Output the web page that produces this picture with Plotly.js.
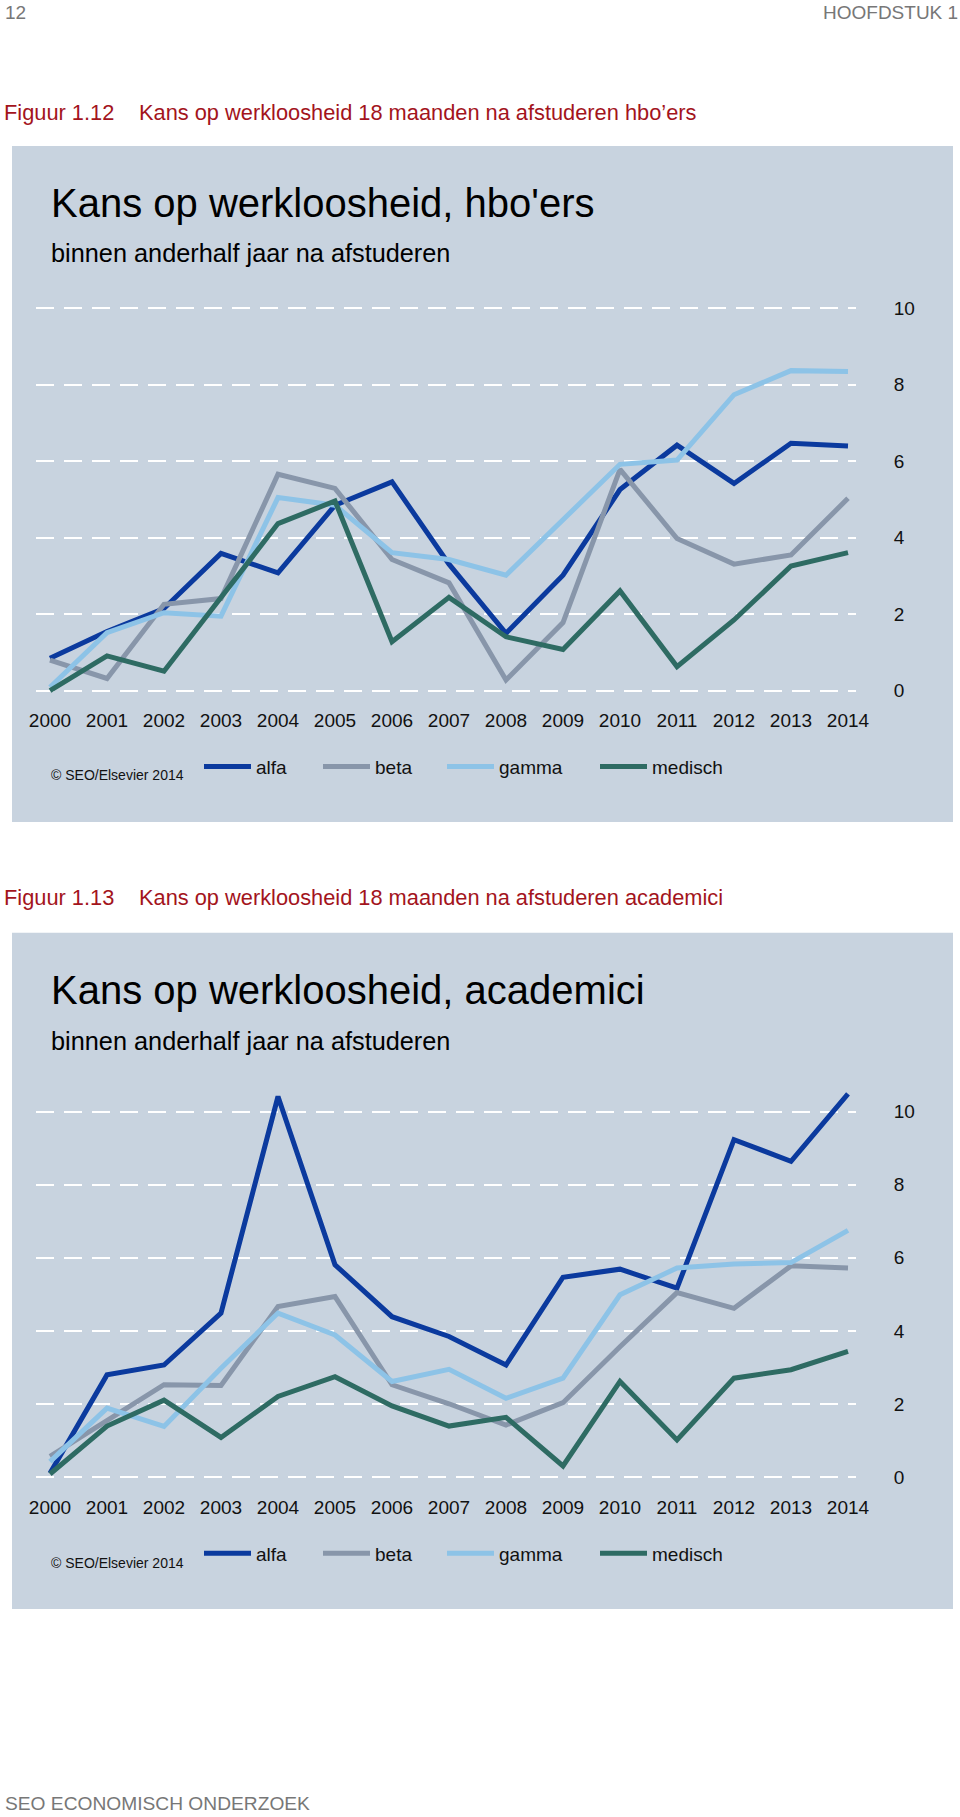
<!DOCTYPE html>
<html>
<head>
<meta charset="utf-8">
<script src="https://cdn.plot.ly/plotly-3.0.1.min.js"></script>
<style>
html,body{margin:0;padding:0;background:#ffffff;}
#chart{width:960px;height:1817px;}
</style>
</head>
<body>
<div id="chart"></div>
<script>
// ---------- data ----------
const years = [2000, 2001, 2002, 2003, 2004, 2005, 2006, 2007, 2008, 2009, 2010, 2011, 2012, 2013, 2014];
const yearLabels = ['2000','2001','2002','2003','2004','2005','2006','2007','2008','2009','2010','2011','2012','2013','2014'];
const yTickValues = [0, 2, 4, 6, 8, 10];
const yTickLabels = ['0','2','4','6','8','10'];
const seriesNames = ['alfa', 'beta', 'gamma', 'medisch'];

// Figuur 1.12 - hbo'ers
const hboAlfa    = [0.85, 1.55, 2.15, 3.59, 3.08, 4.85, 5.46, 3.31, 1.50, 3.02, 5.26, 6.42, 5.42, 6.47, 6.40];
const hboBeta    = [0.80, 0.32, 2.26, 2.41, 5.66, 5.29, 3.43, 2.82, 0.28, 1.78, 5.79, 3.98, 3.31, 3.55, 5.03];
const hboGamma   = [0.09, 1.52, 2.04, 1.95, 5.05, 4.85, 3.61, 3.43, 3.02, 4.46, 5.92, 6.03, 7.74, 8.37, 8.35];
const hboMedisch = [0.00, 0.91, 0.51, 2.46, 4.37, 4.96, 1.28, 2.44, 1.41, 1.08, 2.61, 0.63, 1.85, 3.26, 3.61];

// Figuur 1.13 - academici
const acaAlfa    = [0.11, 2.80, 3.07, 4.49, 10.41, 5.81, 4.39, 3.85, 3.07, 5.47, 5.69, 5.17, 9.23, 8.64, 10.48];
const acaBeta    = [0.57, 1.57, 2.53, 2.51, 4.67, 4.94, 2.53, 2.01, 1.43, 2.04, 3.57, 5.05, 4.62, 5.78, 5.72];
const acaGamma   = [0.43, 1.89, 1.39, 2.98, 4.49, 3.89, 2.62, 2.95, 2.16, 2.71, 4.99, 5.72, 5.83, 5.87, 6.75];
const acaMedisch = [0.09, 1.40, 2.11, 1.09, 2.21, 2.75, 1.95, 1.40, 1.64, 0.31, 2.62, 1.02, 2.71, 2.94, 3.44];

// ---------- styling ----------
const W = 960, H = 1817;
const FONT = 'Liberation Sans, Arial, Helvetica, sans-serif';
const colors = ['#0b3a9e', '#8896aa', '#8dc3e7', '#2e6b63'];
const panelColor = '#c8d3df';
const red = '#a3141c';
const headGrey = '#777777';
const px = v => v / W;
const py = v => 1 - v / H;

const hboSeries = [hboAlfa, hboBeta, hboGamma, hboMedisch];
const acaSeries = [acaAlfa, acaBeta, acaGamma, acaMedisch];

// panel geometry (page pixels)
const panels = [
  {top: 146, bottom: 822, zero: 690.7, unit: 38.24},
  {top: 932.7, bottom: 1609, zero: 1477.3, unit: 36.58}
];
const legendXs = [199, 318, 442, 595];

const traces = [];
const legends = {};
[hboSeries, acaSeries].forEach((set, p) => {
  set.forEach((vals, i) => {
    const lgIndex = p * 4 + i + 1;
    const lgName = lgIndex === 1 ? 'legend' : 'legend' + lgIndex;
    traces.push({
      x: years, y: vals, name: seriesNames[i], type: 'scatter', mode: 'lines',
      xaxis: p === 0 ? 'x' : 'x2', yaxis: p === 0 ? 'y' : 'y2',
      line: {color: colors[i], width: 5},
      legend: lgName, hoverinfo: 'skip'
    });
    legends[lgName] = {
      x: px(legendXs[i]), xanchor: 'left',
      y: py(panels[p].top + 620.7), yanchor: 'middle',
      orientation: 'h', bgcolor: 'rgba(0,0,0,0)', borderwidth: 0,
      itemwidth: 47, font: {family: FONT, size: 19, color: '#111111'},
      itemclick: false, itemdoubleclick: false
    };
  });
});

function yAxisFor(p) {
  const pan = panels[p];
  const plotTop = pan.top + 150, plotBottom = pan.top + 552;
  return {
    domain: [py(plotBottom), py(plotTop)],
    range: [(pan.zero - plotBottom) / pan.unit, (pan.zero - plotTop) / pan.unit],
    side: 'right', anchor: p === 0 ? 'x' : 'x2',
    tickvals: yTickValues, ticktext: yTickLabels,
    showgrid: true, gridcolor: '#ffffff', gridwidth: 2, griddash: '18px,10px',
    zeroline: false, showline: false,
    ticks: 'outside', ticklen: 33, tickcolor: 'rgba(0,0,0,0)',
    tickfont: {family: FONT, size: 19, color: '#111111'},
    fixedrange: true
  };
}
function xAxisFor(p) {
  return {
    domain: [px(36), px(856)],
    range: [2000 - 14 / 57, 2014 + 8 / 57],
    anchor: p === 0 ? 'y' : 'y2',
    tickvals: years, ticktext: yearLabels,
    showgrid: false, zeroline: false, showline: false,
    ticks: 'outside', ticklen: 5, tickcolor: 'rgba(0,0,0,0)',
    tickfont: {family: FONT, size: 19, color: '#111111'},
    fixedrange: true
  };
}

function ann(text, x, y, size, color, xanchor) {
  return {text: text, x: px(x), y: py(y), xref: 'paper', yref: 'paper',
    xanchor: xanchor || 'left', yanchor: 'middle', showarrow: false,
    font: {family: FONT, size: size, color: color}};
}

const annotations = [
  ann('12', 3, 12.5, 19, headGrey),
  ann('HOOFDSTUK 1', 960, 12.5, 19, headGrey, 'right'),
  ann('Figuur 1.12', 2, 112, 21.8, red),
  ann('Kans op werkloosheid 18 maanden na afstuderen hbo’ers', 137, 112, 21.8, red),
  ann("Kans op werkloosheid, hbo'ers", 49, 203, 40, '#000000'),
  ann('binnen anderhalf jaar na afstuderen', 49, 253, 25.3, '#000000'),
  ann('© SEO/Elsevier 2014', 49, 775, 14, '#111111'),
  ann('Figuur 1.13', 2, 898, 21.8, red),
  ann('Kans op werkloosheid 18 maanden na afstuderen academici', 137, 898, 21.8, red),
  ann('Kans op werkloosheid, academici', 49, 990, 40, '#000000'),
  ann('binnen anderhalf jaar na afstuderen', 49, 1041, 25.3, '#000000'),
  ann('© SEO/Elsevier 2014', 49, 1562.7, 14, '#111111'),
  ann('SEO ECONOMISCH ONDERZOEK', 3, 1803, 19.2, headGrey)
];

const shapes = panels.map(pan => ({
  type: 'rect', xref: 'paper', yref: 'paper', layer: 'below',
  x0: px(12), x1: px(953), y0: py(pan.bottom), y1: py(pan.top),
  fillcolor: panelColor, line: {width: 0}
}));

const layout = Object.assign({
  width: W, height: H,
  margin: {l: 0, r: 0, t: 0, b: 0, pad: 0},
  paper_bgcolor: '#ffffff', plot_bgcolor: 'rgba(0,0,0,0)',
  font: {family: FONT},
  showlegend: true,
  xaxis: xAxisFor(0), yaxis: yAxisFor(0),
  xaxis2: xAxisFor(1), yaxis2: yAxisFor(1),
  annotations: annotations, shapes: shapes
}, legends);

Plotly.newPlot('chart', traces, layout, {displayModeBar: false, staticPlot: true});
</script>
</body>
</html>
